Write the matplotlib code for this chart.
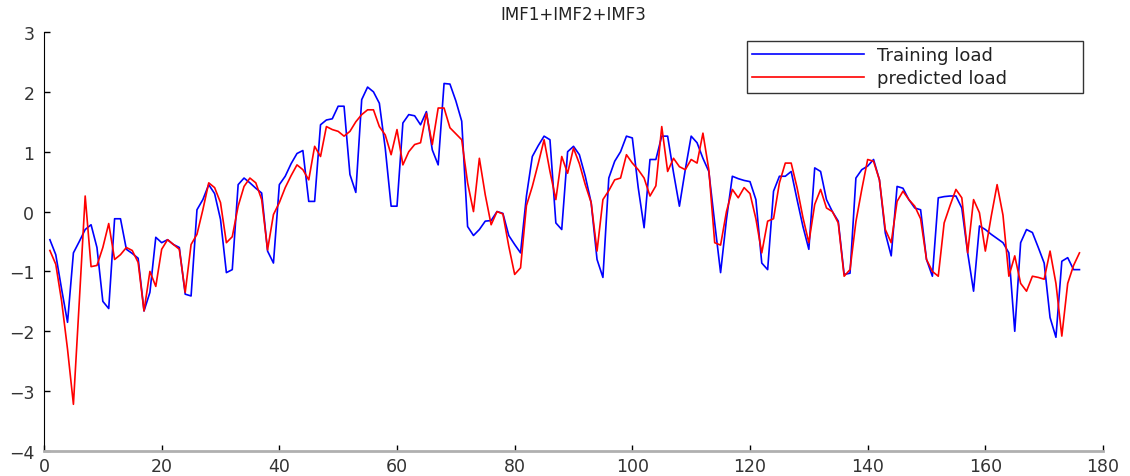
import numpy as np
import matplotlib
matplotlib.use('Agg')
import matplotlib.pyplot as plt

# Values (samples 1..176)
training_load = [
    -0.47, -0.72, -1.3, -1.85, -0.69, -0.5, -0.3, -0.22, -0.6, -1.5,
    -1.62, -0.12, -0.12, -0.63, -0.7, -0.78, -1.66, -1.35, -0.43, -0.52,
    -0.47, -0.55, -0.6, -1.38, -1.41, 0.03, 0.2, 0.45, 0.3, -0.13,
    -1.02, -0.97, 0.45, 0.56, 0.48, 0.39, 0.31, -0.66, -0.86, 0.45,
    0.59, 0.8, 0.97, 1.02, 0.17, 0.17, 1.45, 1.53, 1.55, 1.76,
    1.76, 0.62, 0.32, 1.87, 2.08, 2.0, 1.81, 1.06, 0.09, 0.09,
    1.48, 1.62, 1.6, 1.45, 1.67, 1.03, 0.78, 2.14, 2.13, 1.85,
    1.51, -0.25, -0.4, -0.3, -0.16, -0.15, 0.0, -0.03, -0.4, -0.55,
    -0.69, 0.26, 0.92, 1.1, 1.26, 1.2, -0.19, -0.3, 1.0, 1.09,
    0.95, 0.59, 0.15, -0.8, -1.1, 0.56, 0.84, 1.0, 1.26, 1.23,
    0.4, -0.27, 0.87, 0.87, 1.26, 1.26, 0.65, 0.09, 0.7, 1.26,
    1.15, 0.89, 0.67, -0.19, -1.02, -0.13, 0.59, 0.55, 0.52, 0.5,
    0.2, -0.86, -0.97, 0.34, 0.59, 0.59, 0.67, 0.2, -0.25, -0.63,
    0.73, 0.67, 0.2, 0.0, -0.16, -1.05, -1.03, 0.56, 0.7, 0.76,
    0.87, 0.53, -0.36, -0.74, 0.42, 0.39, 0.2, 0.06, 0.03, -0.8,
    -1.08, 0.23, 0.25, 0.26, 0.26, 0.06, -0.69, -1.33, -0.24, -0.3,
    -0.38, -0.45, -0.52, -0.69, -2.0, -0.52, -0.3, -0.35, -0.6, -0.86,
    -1.77, -2.1, -0.83, -0.77, -0.97, -0.97,
]

predicted_load = [
    -0.65, -0.88, -1.5, -2.3, -3.22, -1.5, 0.26, -0.92, -0.9, -0.6,
    -0.2, -0.8, -0.72, -0.6, -0.65, -0.85, -1.66, -1.0, -1.25, -0.63,
    -0.47, -0.55, -0.63, -1.35, -0.55, -0.38, 0.03, 0.48, 0.4, 0.15,
    -0.52, -0.42, 0.09, 0.42, 0.56, 0.48, 0.2, -0.64, -0.05, 0.15,
    0.4, 0.6, 0.78, 0.7, 0.53, 1.09, 0.92, 1.42, 1.37, 1.34,
    1.26, 1.34, 1.5, 1.62, 1.7, 1.7, 1.42, 1.28, 0.95, 1.37,
    0.78, 1.0, 1.12, 1.15, 1.64, 1.12, 1.73, 1.73, 1.4, 1.3,
    1.2, 0.48, 0.0, 0.89, 0.28, -0.22, 0.0, -0.04, -0.58, -1.05,
    -0.94, 0.1, 0.42, 0.8, 1.2, 0.67, 0.2, 0.92, 0.64, 1.06,
    0.8, 0.45, 0.15, -0.66, 0.2, 0.35, 0.53, 0.56, 0.95, 0.81,
    0.7, 0.56, 0.26, 0.43, 1.42, 0.67, 0.89, 0.75, 0.7, 0.87,
    0.81, 1.31, 0.7, -0.52, -0.56, 0.0, 0.37, 0.23, 0.4, 0.3,
    -0.12, -0.69, -0.16, -0.12, 0.48, 0.81, 0.81, 0.4, -0.1, -0.52,
    0.12, 0.37, 0.06, 0.0, -0.19, -1.08, -0.97, -0.17, 0.37, 0.87,
    0.84, 0.53, -0.3, -0.52, 0.17, 0.34, 0.2, 0.09, -0.12, -0.8,
    -1.0, -1.08, -0.19, 0.1, 0.37, 0.23, -0.69, 0.2, -0.02, -0.66,
    -0.08, 0.45, -0.06, -1.08, -0.74, -1.2, -1.33, -1.08, -1.1, -1.13,
    -0.66, -1.2, -2.08, -1.2, -0.9, -0.69,
]

samples = np.arange(1, len(training_load) + 1)
x_ticks = [0, 20, 40, 60, 80, 100, 120, 140, 160, 180]
y_ticks = [-4, -3, -2, -1, 0, 1, 2, 3]

plt.rcParams['font.family'] = ['DejaVu Sans']

W, H = 1130, 477
fig = plt.figure(figsize=(W / 100, H / 100), dpi=100)
ax = fig.add_axes([44 / W, 1 - 452 / H, (1103 - 44) / W, (452 - 33) / H])

ax.plot(samples, training_load, color='#0000ff', linewidth=1.2, label='Training load')
ax.plot(samples, predicted_load, color='#ff0000', linewidth=1.2, label='predicted load')

ax.set_xlim(0, 180)
ax.set_ylim(-4, 3)
ax.set_xticks(x_ticks)
ax.set_yticks(y_ticks)
ax.tick_params(direction='in', length=4, width=1, labelsize=12.5,
               labelcolor='#333333')
ax.tick_params(axis='y', pad=7)
ax.tick_params(axis='x', pad=4)
ax.set_title('IMF1+IMF2+IMF3', fontsize=12, pad=9, color='#222222')

# MATLAB-looking axes: left axis black, bottom axis a grey bar, no box
ax.spines['top'].set_visible(False)
ax.spines['right'].set_visible(False)
ax.spines['left'].set_color('black')
ax.spines['bottom'].set_color('#b0b0b0')
ax.spines['bottom'].set_linewidth(2)

# legend box stretched over the same span as in the reference
leg = ax.legend(loc='upper left',
                bbox_to_anchor=(747 / W, 1 - 93 / H, (1083 - 747) / W, 51 / H),
                bbox_transform=fig.transFigure, mode='expand',
                fontsize=13, frameon=True, fancybox=False,
                handlelength=6.2, handletextpad=0.7,
                borderpad=0.3, labelspacing=0.28, borderaxespad=0)
leg.get_frame().set_edgecolor('black')
leg.get_frame().set_linewidth(1)
for t in leg.get_texts():
    t.set_color('#222222')

fig.savefig('out.png', dpi=100)
